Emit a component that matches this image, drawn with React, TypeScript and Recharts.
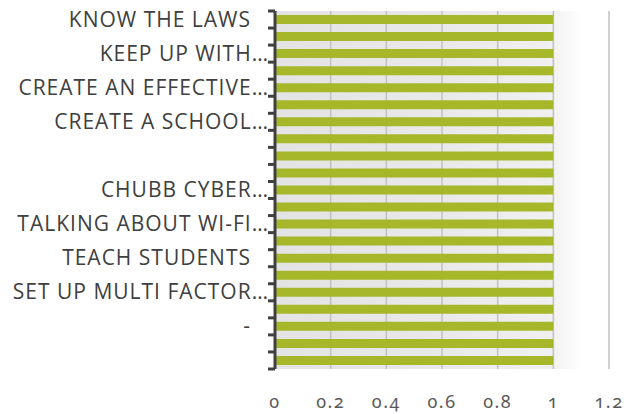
import React from 'react';
import { BarChart, Bar, XAxis, YAxis, CartesianGrid } from 'recharts';

// Category labels, top to bottom (odd categories are not labelled in the source)
const categories: string[] = [
  'KNOW THE LAWS',
  '',
  'KEEP UP WITH…',
  '',
  'CREATE AN EFFECTIVE…',
  '',
  'CREATE A SCHOOL…',
  '',
  '',
  '',
  'CHUBB CYBER…',
  '',
  'TALKING ABOUT WI-FI…',
  '',
  'TEACH STUDENTS',
  '',
  'SET UP MULTI FACTOR…',
  '',
  '-',
  '',
  '',
];

const values: number[] = [1, 1, 1, 1, 1, 1, 1, 1, 1, 1, 1, 1, 1, 1, 1, 1, 1, 1, 1, 1, 1];

const xTicks: number[] = [0, 0.2, 0.4, 0.6, 0.8, 1, 1.2];
const xTickLabels: string[] = ['0', '0.2', '0.4', '0.6', '0.8', '1', '1.2'];

const data = categories.map((label, i) => ({ key: i, label, value: values[i] }));

const W = 636;
const H = 414;
const MARGIN = { top: 11, right: 27, bottom: 0, left: 0 };
const Y_AXIS_W = 275;
const X_AXIS_H = 45;
const AXIS_X = MARGIN.left + Y_AXIS_W;
const PLOT_TOP = MARGIN.top;
const PLOT_BOTTOM = H - MARGIN.bottom - X_AXIS_H;
const BAND = (PLOT_BOTTOM - PLOT_TOP) / categories.length;

const LABEL_FONT = '"Open Sans", "Noto Sans", sans-serif';
const NUM_FONT = '"Noto Sans", "Open Sans", sans-serif';

const YTick = (props: any) => {
  const { y, payload } = props;
  const idx = Number(payload.value);
  const label = categories[idx];
  const top = y - BAND / 2;
  const bottom = y + BAND / 2;
  const truncated = label.endsWith('…');
  return (
    <g>
      <line x1={AXIS_X - 7} x2={AXIS_X} y1={top} y2={top} stroke="#404040" strokeWidth={3} />
      {idx === categories.length - 1 && (
        <line x1={AXIS_X - 7} x2={AXIS_X} y1={bottom} y2={bottom} stroke="#404040" strokeWidth={3} />
      )}
      {idx % 2 === 0 && label && (
        <text
          x={AXIS_X - 6 - (truncated ? 0 : 18)}
          y={y + 7}
          textAnchor="end"
          fill="#404040"
          fontSize={21}
          fontFamily={LABEL_FONT}
          letterSpacing={1}
        >
          {label}
        </text>
      )}
    </g>
  );
};

const XTick = (props: any) => {
  const { x, payload } = props;
  const i = xTicks.indexOf(payload.value);
  return (
    <text
      x={x}
      y={PLOT_BOTTOM + 39}
      textAnchor="middle"
      fill="#595959"
      fontSize={18}
      fontFamily={NUM_FONT}
      style={{ fontFeatureSettings: '"onum" 1', fontVariantNumeric: 'oldstyle-nums', letterSpacing: '1.5px' }}
    >
      {i >= 0 ? xTickLabels[i] : String(payload.value)}
    </text>
  );
};

export default function App() {
  return (
    <div style={{ position: 'absolute', left: 0, top: 0, width: W, height: H, background: '#ffffff' }}>
      <BarChart
        width={W}
        height={H}
        data={data}
        layout="vertical"
        margin={MARGIN}
        barSize={9}
      >
        <defs>
          <linearGradient id="plotBg" x1="0" y1="0" x2="1" y2="0">
            <stop offset="0" stopColor="#e3e3e3" />
            <stop offset="0.5" stopColor="#e9e9e9" />
            <stop offset="0.82" stopColor="#f0f0f0" />
            <stop offset="0.92" stopColor="#ffffff" />
            <stop offset="1" stopColor="#ffffff" />
          </linearGradient>
        </defs>
        <CartesianGrid
          horizontal={false}
          vertical={true}
          fill="url(#plotBg)"
          fillOpacity={1}
          stroke="#c0c0c0"
          strokeWidth={1.5}
        />
        <XAxis
          type="number"
          domain={[0, 1.2]}
          ticks={xTicks}
          axisLine={false}
          tickLine={false}
          height={X_AXIS_H}
          tick={<XTick />}
          interval={0}
        />
        <YAxis
          type="category"
          dataKey="key"
          width={Y_AXIS_W}
          axisLine={{ stroke: '#404040', strokeWidth: 3 }}
          tickLine={false}
          tick={<YTick />}
          interval={0}
        />
        <Bar dataKey="value" fill="#a6b82a" isAnimationActive={false} />
      </BarChart>
    </div>
  );
}
